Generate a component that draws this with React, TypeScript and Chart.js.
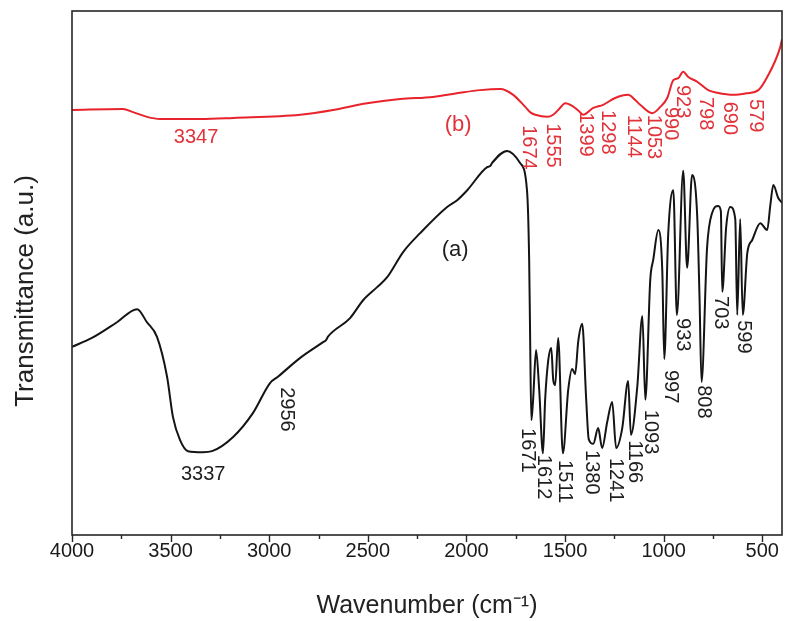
import React, { useEffect, useRef } from "react";
import { Chart, registerables } from "chart.js";

Chart.register(...registerables);

// ---- Data: sample (a), black trace ----
const wavenumberA = [
  4000, 3899, 3772, 3670, 3620, 3569, 3518, 3488, 3452, 3412, 3337, 3290, 3183, 3082, 2996, 2956,
  2843, 2727, 2712, 2701, 2590, 2524, 2453, 2402, 2321, 2235, 2098, 2047, 1996, 1895, 1880, 1870,
  1794, 1728, 1693, 1682, 1677, 1671, 1662, 1647, 1631, 1612, 1601, 1585, 1570, 1560, 1550, 1535,
  1511, 1484, 1464, 1449, 1433, 1413, 1393, 1380, 1357, 1332, 1312, 1286, 1261, 1241, 1210, 1180,
  1166, 1134, 1108, 1093, 1068, 1053, 1027, 1007, 997, 977, 951, 933, 901, 881, 856, 830, 818, 808,
  780, 754, 723, 710, 703, 683, 662, 637, 627, 612, 599, 576, 551, 510, 475, 459, 444, 419, 400,
];
const transmittanceA = [
  35.9, 37.6, 40.6, 43.1, 40.6, 37.8, 30.2, 22.5, 18.1, 16.0, 15.8, 16.0, 18.7, 23.3, 29.0, 30.2,
  33.8, 36.8, 37.2, 37.9, 41.4, 44.8, 47.3, 49.2, 54.0, 57.6, 62.6, 63.9, 65.8, 70.2, 70.4, 71.0,
  73.3, 71.0, 65.8, 52.5, 37.4, 21.9, 25.8, 35.3, 27.7, 15.6, 25.8, 33.4, 35.7, 29.6, 28.6, 37.6,
  15.6, 27.7, 31.7, 30.7, 37.0, 40.3, 26.0, 18.3, 17.4, 20.4, 16.6, 21.6, 25.4, 16.6, 20.4, 29.4,
  19.1, 28.2, 41.8, 25.8, 48.7, 52.5, 58.2, 50.4, 33.6, 57.4, 65.8, 42.0, 69.5, 51.0, 68.7, 60.9, 45.0, 29.2,
  54.8, 61.5, 62.8, 61.8, 46.4, 58.8, 62.6, 60.3, 42.0, 60.3, 42.0, 53.8, 56.3, 59.5, 58.2, 63.0, 66.8, 64.3, 63.4,
];

// ---- Data: sample (b), red trace ----
const wavenumberB = [
  4000, 3741, 3691, 3620, 3554, 3347, 3183, 2843, 2676, 2504, 2336, 2169, 2032, 1930, 1829, 1763,
  1702, 1674, 1651, 1591, 1560, 1530, 1499, 1464, 1430, 1408, 1357, 1307, 1246, 1180, 1144, 1119,
  1058, 1017, 982, 951, 926, 901, 875, 830, 774, 728, 647, 579, 520, 475, 409, 400,
];
const transmittanceB = [
  81.1, 81.3, 80.7, 79.8, 79.4, 79.4, 79.6, 80.2, 81.1, 82.4, 83.2, 83.6, 84.4, 84.9, 85.1, 84.0,
  81.7, 80.6, 80.2, 79.8, 80.2, 81.3, 82.4, 81.9, 80.9, 80.2, 81.5, 82.1, 83.4, 84.0, 83.0, 82.1,
  80.5, 81.7, 83.4, 86.8, 87.2, 88.4, 87.4, 86.5, 84.9, 84.4, 84.0, 84.3, 84.9, 87.4, 93.1, 94.6,
];

// ---- Axis ticks ----
const xTickValues = [4000, 3500, 3000, 2500, 2000, 1500, 1000, 500];
const xMinorTickValues = [3750, 3250, 2750, 2250, 1750, 1250, 750];

// ---- Peak annotations (text, anchor wavenumber, anchor transmittance) ----
const peakLabelsA = ["2956", "1671", "1612", "1511", "1380", "1241", "1166", "1093", "997", "933", "808", "703", "599"];
const peakLabelAtA = [2914, 1692, 1611, 1504, 1367, 1246, 1149, 1068, 966, 906, 800, 713, 597];
const peakLabelTopA = [28.2, 20.4, 15.3, 14.3, 16.2, 14.7, 18.1, 23.9, 31.5, 41.4, 28.6, 45.6, 41.0];

const peakLabelsB = ["1674", "1555", "1399", "1298", "1144", "1053", "990", "923", "798", "690", "579"];
const peakLabelAtB = [1687, 1565, 1398, 1286, 1154, 1053, 966, 906, 789, 667, 535];
const peakLabelTopB = [78.2, 78.6, 80.7, 81.1, 80.2, 80.2, 81.7, 85.9, 83.6, 82.7, 83.2];

const flatLabels = ["3337", "3347", "(a)", "(b)"];
const flatLabelAt = [3335, 3371, 2057, 2042];
const flatLabelMid = [11.6, 75.8, 54.4, 78.2];
const flatLabelSeries = ["a", "b", "a", "b"];

const BLACK = "#141414";
const RED = "#e8232b";
const RED_TEXT = "#e0333a";
const FONT = "'Liberation Sans', Arial, sans-serif";

const decorPlugin = {
  id: "decor",
  afterDraw(chart: any) {
    const { ctx, chartArea: a, scales } = chart;
    const x = scales.x;
    const y = scales.y;
    ctx.save();
    // frame
    ctx.strokeStyle = "#262626";
    ctx.lineWidth = 1.6;
    ctx.strokeRect(a.left, a.top, a.right - a.left, a.bottom - a.top);
    // ticks
    ctx.beginPath();
    for (const v of xTickValues) {
      const px = Math.round(x.getPixelForValue(v)) + 0.5;
      ctx.moveTo(px, a.bottom);
      ctx.lineTo(px, a.bottom + 7);
    }
    for (const v of xMinorTickValues) {
      const px = Math.round(x.getPixelForValue(v)) + 0.5;
      ctx.moveTo(px, a.bottom);
      ctx.lineTo(px, a.bottom + 4);
    }
    ctx.lineWidth = 1.4;
    ctx.stroke();

    // rotated peak labels
    ctx.font = `20px ${FONT}`;
    const drawRot = (texts: string[], at: number[], top: number[], color: string) => {
      ctx.fillStyle = color;
      texts.forEach((t, i) => {
        ctx.save();
        ctx.translate(x.getPixelForValue(at[i]), y.getPixelForValue(top[i]));
        ctx.rotate(Math.PI / 2);
        ctx.textAlign = "left";
        ctx.textBaseline = "middle";
        ctx.fillText(t, 0, 0);
        ctx.restore();
      });
    };
    drawRot(peakLabelsA, peakLabelAtA, peakLabelTopA, "#1e1e1e");
    drawRot(peakLabelsB, peakLabelAtB, peakLabelTopB, RED_TEXT);

    // horizontal labels
    flatLabels.forEach((t, i) => {
      ctx.fillStyle = flatLabelSeries[i] === "a" ? "#1e1e1e" : RED_TEXT;
      ctx.font = t.startsWith("(") ? `22px ${FONT}` : `20px ${FONT}`;
      ctx.textAlign = "center";
      ctx.textBaseline = "middle";
      ctx.fillText(t, x.getPixelForValue(flatLabelAt[i]), y.getPixelForValue(flatLabelMid[i]));
    });

    // y-axis title
    ctx.save();
    ctx.translate(26, 291);
    ctx.rotate(-Math.PI / 2);
    ctx.font = `26px ${FONT}`;
    ctx.fillStyle = "#222";
    ctx.textAlign = "center";
    ctx.textBaseline = "middle";
    ctx.fillText("Transmittance (a.u.)", 0, 0);
    ctx.restore();

    ctx.restore();
  },
};

export default function App() {
  const ref = useRef<HTMLCanvasElement | null>(null);

  useEffect(() => {
    document.body.style.margin = "0";
    const canvas = ref.current;
    if (!canvas) return;
    const chart = new Chart(canvas, {
      type: "line",
      data: {
        datasets: [
          {
            label: "(a)",
            data: wavenumberA.map((w, i) => ({ x: w, y: transmittanceA[i] })),
            borderColor: BLACK,
            borderWidth: 2,
            pointRadius: 0,
            cubicInterpolationMode: "monotone",
            fill: false,
          },
          {
            label: "(b)",
            data: wavenumberB.map((w, i) => ({ x: w, y: transmittanceB[i] })),
            borderColor: RED,
            borderWidth: 2,
            pointRadius: 0,
            cubicInterpolationMode: "monotone",
            fill: false,
          },
        ],
      },
      options: {
        animation: false,
        responsive: false,
        devicePixelRatio: 1,
        layout: { padding: { top: 11, right: 3, left: 0, bottom: 0 } },
        plugins: {
          legend: { display: false },
          tooltip: { enabled: false },
        },
        scales: {
          x: {
            type: "linear",
            reverse: true,
            min: 400,
            max: 4000,
            grid: { display: false },
            border: { display: false },
            afterBuildTicks: (s: any) => {
              s.ticks = xTickValues.map((v) => ({ value: v }));
            },
            afterFit: (s: any) => {
              s.height = 86;
            },
            ticks: {
              autoSkip: false,
              maxRotation: 0,
              padding: -4,
              color: "#1a1a1a",
              font: { family: FONT, size: 20 },
              callback: (v: any) => String(v),
            },
            title: {
              display: true,
              text: "Wavenumber (cm\u207B\u00B9)",
              color: "#222",
              font: { family: FONT, size: 25 },
              padding: { top: 0, bottom: 0 },
            },
          },
          y: {
            min: 0,
            max: 100,
            grid: { display: false },
            border: { display: false },
            ticks: { display: false },
            afterFit: (s: any) => {
              s.width = 72;
            },
          },
        },
      },
      plugins: [decorPlugin],
    });
    return () => chart.destroy();
  }, []);

  return <canvas ref={ref} width={785} height={621} style={{ display: "block" }} />;
}
